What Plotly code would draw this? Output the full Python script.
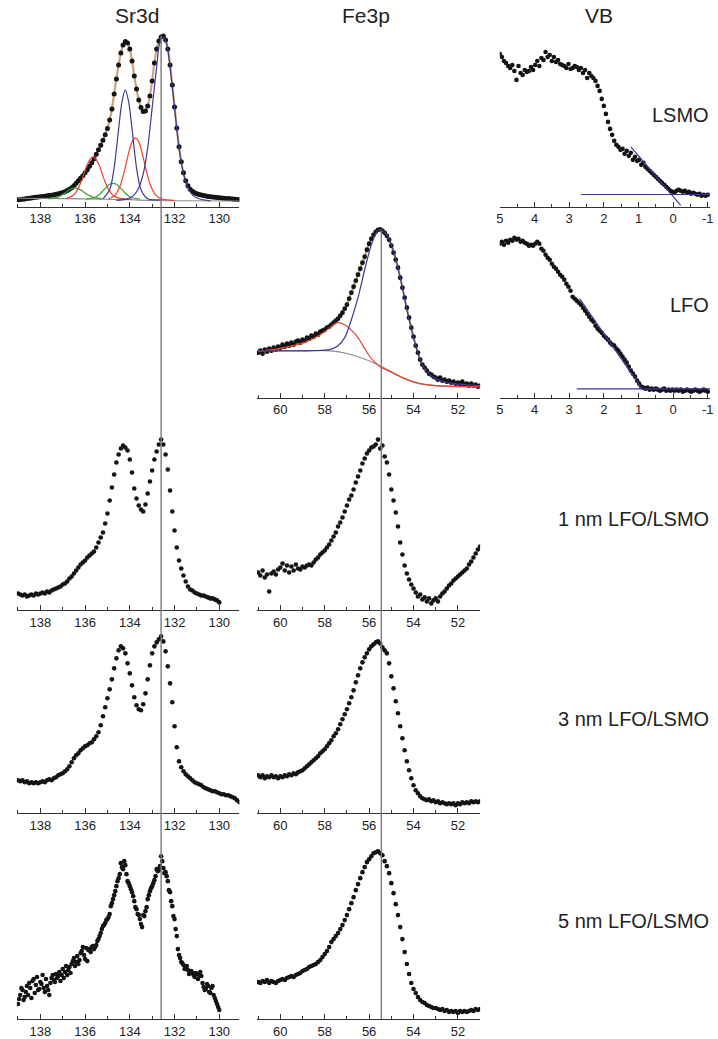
import plotly.graph_objects as go

W, H = 718, 1039
FONT = "Liberation Sans, Arial, sans-serif"
TXT = "#222222"
DOT = "#141414"
BLUE = "#3f3796"
RED = "#e8432d"
GREEN = "#3f9a3c"
GREY = "#8a8a8a"
ENV = "#c9a47e"


def grid(start, step, n):
    """Binding-energy grid of a scan (eV), measured from high to low."""
    return [round(start - step * i, 3) for i in range(n)]


# ---------------- Sr3d spectra (eV grid 139.0 -> , step 0.1) ----------------
SR3D_LSMO = [7, 7.3, 7.5, 7.8, 8.2, 8.5, 8.8, 9.2, 9.5, 9.8,
             10, 10.3, 10.6, 11, 11.3, 11.6, 12, 12.5, 13, 13.5,
             14.2, 15, 16.2, 17.5, 19, 21, 23.5, 26, 28.5, 31,
             34, 37, 40.5, 44, 48, 52.5, 57, 61.5, 66.5, 72,
             78.5, 87, 98, 113, 128, 142, 154, 162, 165.5, 164,
             158, 146, 131, 118, 107, 99.5, 95.5, 96, 101, 111,
             126, 144, 158, 166, 170, 171, 167, 158, 142, 122,
             100, 79, 60, 45, 34, 26, 21, 17.5, 15.5, 14,
             13, 12.3, 11.8, 11.3, 10.8, 10.4, 10.1, 9.8, 9.5, 9.3,
             9, 8.8, 8.6, 8.4, 8.2, 8, 7.8, 7.6, 7.4, 7.2]

SR3D_1NM = [17, 16, 15, 16, 14, 15, 16, 15, 17, 16,
            17, 18, 17, 19, 18, 20, 21, 22, 23, 24,
            26, 27, 29, 32, 34, 37, 40, 43, 46, 48,
            50, 53, 55, 57, 59, 63, 68, 73, 78, 87,
            97, 110, 123, 136, 148, 156, 162, 165, 163, 160,
            151, 138, 122, 112, 105, 101, 99, 106, 117, 129,
            140, 151, 159, 166, 171, 166, 156, 141, 120, 99,
            80, 63, 50, 42, 35, 29, 24, 21, 20, 18,
            17, 16, 15, 15, 14, 13, 12, 12, 11, 10, 8]

SR3D_3NM = [33, 32, 33, 31, 32, 30, 31, 30, 31, 30,
            31, 32, 31, 33, 34, 33, 35, 36, 38, 39,
            40, 42, 44, 47, 51, 55, 58, 60, 63, 65,
            67, 68, 70, 71, 74, 77, 81, 88, 97, 106,
            115, 124, 134, 145, 155, 163, 167, 165, 160, 150,
            140, 128, 116, 108, 104, 103, 109, 120, 134, 148,
            160, 167, 171, 174, 177, 172, 162, 147, 130, 111,
            87, 66, 52, 46, 42, 39, 37, 35, 33, 31,
            30, 29, 28, 26, 25, 24, 23, 22, 22, 21,
            20, 19, 19, 18, 18, 17, 16, 15, 13, 11]

# 5 nm: two interleaved sweeps (139.00 -> 130.00 and 138.95 -> 130.05)
SR3D_5NM = [15, 24, 29, 22, 33, 36, 21, 40, 34, 29,
            37, 44, 27, 33, 24, 41, 39, 45, 43, 38,
            50, 47, 44, 52, 55, 61, 57, 55, 66, 72,
            60, 58, 70, 72, 70, 74, 80, 86, 93, 96,
            100, 105, 116, 124, 133, 141, 156, 150, 154, 138,
            133, 127, 118, 110, 104, 95, 104, 108, 120, 128,
            133, 139, 150, 149, 163, 151, 147, 138, 127, 113,
            100, 83, 64, 57, 54, 51, 49, 47, 46, 42,
            45, 44, 43, 32, 30, 33, 26, 33, 21, 15, 9]
SR3D_5NM_B = [20, 31, 19, 27, 24, 31, 38, 26, 42, 30,
              35, 31, 40, 29, 36, 44, 37, 41, 47, 44,
              41, 53, 49, 46, 58, 53, 63, 59, 68, 64,
              71, 69, 67, 73, 72, 78, 83, 90, 94, 99,
              102, 113, 120, 128, 138, 145, 152, 158, 145, 136,
              130, 123, 112, 105, 100, 92, 103, 112, 124, 131,
              136, 143, 148, 153, 158, 146, 143, 129, 118, 103,
              90, 70, 61, 56, 50, 53, 45, 48, 44, 46,
              40, 47, 36, 29, 35, 27, 31, 24, 18, 12]

# ---------------- Fe3p spectra (eV grid 61.0 -> 51.0, step 0.1) ----------------
FE3P_LFO = [45, 47, 44, 48, 46, 49, 47, 50, 48, 51,
            50, 53, 51, 54, 52, 55, 53, 56, 57, 55,
            58, 57, 60, 59, 62, 61, 64, 63, 66, 67,
            68, 70, 71, 73, 75, 77, 79, 82, 85, 89,
            93, 99, 105, 111, 117, 123, 129, 135, 141, 148,
            154, 159, 163, 166, 168, 168.5, 167, 165, 162, 158,
            152, 145, 138, 130, 120, 110, 100, 90, 80, 70,
            61, 52, 45, 38, 33, 30, 27, 24, 23, 21,
            20, 18, 20, 17, 18, 16, 17, 15, 16, 14,
            15, 13, 16, 13, 14, 12, 14, 12, 13, 11, 12]

FE3P_1NM = [38, 35, 40, 33, 36, 19, 37, 39, 36, 41,
            43, 47, 40, 45, 38, 44, 40, 46, 42, 41,
            44, 43, 45, 46, 45, 48, 51, 53, 56, 58,
            60, 63, 66, 70, 74, 78, 84, 88, 93, 99,
            105, 111, 115, 121, 128, 134, 140, 147, 152, 157,
            160, 163, 164, 166, 171, 162, 165, 154, 148, 136,
            121, 110, 98, 84, 68, 56, 45, 37, 31, 26,
            22, 18, 14, 16, 11, 13, 9, 12, 7, 10,
            12, 9, 14, 17, 19, 22, 25, 27, 30, 32,
            34, 36, 38, 40, 42, 46, 49, 53, 57, 61, 64]

FE3P_3NM = [38, 36, 38, 35, 37, 36, 38, 36, 37, 35,
            37, 36, 38, 37, 39, 38, 40, 39, 41, 42,
            43, 45, 47, 49, 51, 53, 55, 57, 60, 62,
            64, 67, 70, 73, 77, 80, 84, 89, 94, 99,
            104, 110, 116, 123, 131, 138, 145, 151, 156, 160,
            164, 167, 169, 171, 172, 170, 166, 163, 160, 150,
            137, 125, 112, 100, 87, 75, 63, 52, 43, 35,
            28, 23, 20, 17, 15, 14, 13, 14, 12, 13,
            11, 12, 10, 11, 10, 9, 10, 9, 10, 8,
            10, 9, 11, 10, 11, 10, 12, 11, 12, 11, 12]

FE3P_5NM = [37, 36, 38, 37, 39, 36, 38, 37, 36, 38,
            39, 40, 39, 41, 42, 43, 42, 44, 45, 46,
            48, 49, 50, 52, 53, 54, 55, 57, 59, 62,
            65, 68, 72, 77, 80, 83, 86, 90, 94, 99,
            104, 110, 116, 122, 129, 135, 141, 147, 152, 157,
            160, 163, 166, 167, 168, 166, 164, 158, 153, 146,
            136, 126, 115, 104, 92, 80, 67, 55, 45, 36,
            30, 26, 22, 19, 17, 16, 14, 13, 12, 11,
            11, 10, 9, 10, 8, 9, 7, 8, 7, 8,
            6, 8, 7, 8, 7, 8, 9, 8, 10, 9, 10]

# ---------------- valence band (eV grid 5.0 -> -1.0, step 0.06) ----------------
VB_LSMO = [153, 150, 146, 144, 141, 139, 142, 136, 127, 141,
           134, 132, 137, 135, 136, 140, 137, 142, 146, 141,
           149, 147, 155, 150, 152, 146, 150, 145, 147, 143,
           142, 141, 139, 143, 138, 139, 141, 140, 137, 139,
           134, 137, 129, 134, 131, 129, 126, 121, 116, 108,
           101, 93, 85, 78, 72, 66, 62, 60, 57, 58,
           53, 56, 51, 54, 47, 50, 46, 47, 42, 44,
           40, 38, 36, 34, 32, 30, 28, 26, 24, 22,
           20, 18, 16, 15, 14, 16, 17, 16, 15, 16,
           14, 15, 13, 14, 13, 12, 13, 11, 12, 11, 12]

VB_LFO = [154, 156, 153, 157, 155, 158, 157, 160, 158, 159,
          156, 157, 155, 154, 152, 153, 152, 154, 156, 154,
          149, 147, 143, 140, 138, 134, 131, 129, 126, 123,
          121, 118, 114, 111, 107, 101, 99, 97, 95, 93,
          90, 87, 84, 81, 78, 76, 72, 69, 67, 65,
          62, 60, 58, 55, 53, 52, 49, 47, 44, 41,
          38, 35, 31, 27, 24, 21, 17, 14, 11, 10,
          9, 10, 8, 9, 8, 9, 8, 7, 8, 9,
          7, 8, 7, 8, 7, 8, 7, 8, 6, 7,
          8, 7, 6, 7, 8, 7, 6, 7, 8, 7, 6]

# ---------------- fitted components (E, I) ----------------
SR_BG = [(139.0, 8.5), (137.0, 8.2), (135.0, 7.5), (134.0, 7), (133.0, 6.3),
         (132.0, 6), (129.1, 5.8)]
SR_BLUE_A = [(134.6, 6.5), (134.1, 8), (133.8, 12), (133.6, 19), (133.4, 33),
             (133.2, 59), (133.0, 99), (132.8, 140), (132.65, 165), (132.5, 169),
             (132.35, 163), (132.2, 140), (132.0, 99), (131.8, 59), (131.6, 33),
             (131.4, 19), (131.2, 12), (130.9, 8), (130.4, 6)]
SR_BLUE_B = [(135.2, 8), (134.9, 17), (134.7, 39), (134.5, 78), (134.35, 105),
             (134.2, 117), (134.05, 105), (133.9, 78), (133.7, 39), (133.5, 17),
             (133.2, 8), (132.6, 7)]
SR_RED_A = [(134.95, 7.7), (134.65, 12), (134.45, 20), (134.25, 35), (134.05, 54),
            (133.9, 65), (133.75, 69), (133.6, 65), (133.45, 54), (133.25, 35),
            (133.05, 20), (132.85, 12), (132.55, 7.7), (132.0, 6.5)]
SR_RED_B = [(136.84, 8.5), (136.54, 11.4), (136.34, 17), (136.14, 27), (135.94, 40),
            (135.79, 47), (135.64, 50), (135.49, 47), (135.34, 40), (135.14, 27),
            (134.94, 17), (134.74, 11.4), (134.44, 8.5), (133.9, 7.5)]
SR_GREEN_A = [(135.95, 7.7), (135.65, 8.8), (135.45, 10.9), (135.25, 14.8),
              (135.05, 19.6), (134.9, 22.5), (134.75, 23.5), (134.6, 22.5),
              (134.45, 19.6), (134.25, 14.8), (134.05, 10.9), (133.85, 8.8),
              (133.55, 7.7)]
SR_GREEN_B = [(137.65, 8.1), (137.35, 8.9), (137.15, 10.4), (136.95, 13),
              (136.75, 16.3), (136.6, 18.2), (136.45, 19), (136.3, 18.2),
              (136.15, 16.3), (135.95, 13), (135.75, 10.4), (135.55, 8.9),
              (135.25, 8.1)]

FE_BG = [(61.0, 47), (59.0, 47), (58.0, 47), (57.3, 45.5), (56.5, 41),
         (55.5, 32), (54.6, 21), (53.8, 14.5), (53.0, 12), (52.0, 11), (51.0, 11)]
FE_BLUE = [(61.0, 47), (58.5, 47), (57.8, 48), (57.4, 52), (57.1, 60), (56.8, 78),
           (56.5, 100), (56.2, 128), (55.9, 153), (55.65, 166), (55.5, 168),
           (55.2, 163), (54.9, 147), (54.6, 120), (54.3, 88), (54.0, 60),
           (53.7, 38), (53.4, 26), (53.0, 19), (52.5, 15), (52.0, 13.5), (51.0, 12)]
FE_RED = [(61.0, 46.5), (60.2, 48.5), (59.5, 51.5), (58.8, 56), (58.0, 66),
          (57.7, 71.5), (57.43, 75), (57.1, 73), (56.8, 67.5), (56.5, 60),
          (56.2, 49), (55.9, 39), (55.5, 31), (55.0, 25.5), (54.6, 21),
          (53.8, 14.5), (53.0, 12), (51.0, 11)]

# valence-band edge extrapolations
VB_LSMO_EDGE = [(1.22, 60), (-0.22, 1.5)]
VB_LSMO_BASE = [(2.66, 12.3), (-1.07, 12.3)]
VB_LFO_EDGE = [(2.70, 99), (0.88, 8)]
VB_LFO_BASE = [(2.78, 8.7), (-1.07, 8.7)]

# reference energies marked across the stacks
SR3D_REF = 132.6
FE3P_REF = 55.45

# tick labels
SR_TICKS = [138, 136, 134, 132, 130]
FE_TICKS = [60, 58, 56, 54, 52]
VB_TICKS = [5, 4, 3, 2, 1, 0, -1]
VB_TICKTEXT = ["5", "4", "3", "2", "1", "0", "-1"]

COLUMN_TITLES = ["Sr3d", "Fe3p", "VB"]
ROW_LABELS = ["LSMO", "LFO", "1 nm LFO/LSMO", "3 nm LFO/LSMO", "5 nm LFO/LSMO"]

# ---------------- layout geometry (pixels) ----------------
PANEL_H = 185
COLS = {
    "sr": dict(x0=13.0, x1=237.7, rng=[139.05, 129.1], ticks=SR_TICKS, text=None,
               minor=1),
    "fe": dict(x0=255.5, x1=480.8, rng=[61.05, 51.0], ticks=FE_TICKS, text=None,
               minor=1),
    "vb": dict(x0=500.7, x1=713.2, rng=[5.0, -1.07], ticks=VB_TICKS,
               text=VB_TICKTEXT, minor=0.5),
}
# (column, axis line y) for each panel, numbered in axis order
PANELS = [("sr", 207), ("vb", 207), ("fe", 398), ("vb", 398),
          ("sr", 611), ("fe", 611), ("sr", 814), ("fe", 814),
          ("sr", 1020), ("fe", 1020)]


def px(x):
    return x / W


def py(y):
    return 1 - y / H


fig = go.Figure()
layout = dict(width=W, height=H, margin=dict(l=0, r=0, t=0, b=0),
              paper_bgcolor="white", plot_bgcolor="rgba(0,0,0,0)",
              showlegend=False, font=dict(family=FONT, color=TXT))

for k, (col, base) in enumerate(PANELS, start=1):
    c = COLS[col]
    sfx = "" if k == 1 else str(k)
    layout["xaxis" + sfx] = dict(
        domain=[px(c["x0"]), px(c["x1"])], range=c["rng"], anchor="y" + sfx,
        showline=True, linecolor="#333333", linewidth=1, showgrid=False,
        zeroline=False, ticks="inside", ticklen=5, tickwidth=1, tickcolor="#333333",
        tickvals=c["ticks"], ticktext=c["text"] if c["text"] else [str(t) for t in c["ticks"]],
        tickfont=dict(family=FONT, size=13, color=TXT),
        minor=dict(dtick=c["minor"], tick0=0, ticks="inside", ticklen=3,
                   tickcolor="#333333", showgrid=False),
        fixedrange=True,
    )
    layout["yaxis" + sfx] = dict(
        domain=[py(base), py(base - PANEL_H)], range=[0, PANEL_H], anchor="x" + sfx,
        visible=False, fixedrange=True,
    )


def ax(k):
    return ("x", "y") if k == 1 else ("x" + str(k), "y" + str(k))


def dots(k, energies, values, size=4.6):
    xa, ya = ax(k)
    fig.add_trace(go.Scatter(x=energies, y=values, mode="markers", xaxis=xa, yaxis=ya,
                             marker=dict(size=size, color=DOT, line=dict(width=0)),
                             hoverinfo="skip"))


def curve(k, pts, color, width=1.2, shape="spline"):
    xa, ya = ax(k)
    fig.add_trace(go.Scatter(x=[p[0] for p in pts], y=[p[1] for p in pts], mode="lines",
                             xaxis=xa, yaxis=ya, line=dict(color=color, width=width,
                                                           shape=shape, smoothing=0.8),
                             hoverinfo="skip"))


E_SR_LSMO = grid(139.0, 0.1, len(SR3D_LSMO))
E_FE = grid(61.0, 0.1, len(FE3P_LFO))
E_VB = grid(5.0, 0.06, len(VB_LSMO))

# Panel 1: Sr3d of bare LSMO with peak fit (envelope beneath the data)
curve(1, list(zip(E_SR_LSMO, SR3D_LSMO)), ENV, width=2.2)
dots(1, E_SR_LSMO, SR3D_LSMO, size=5)
curve(1, SR_BG, GREY, width=1.1)
for comp, colr in [(SR_GREEN_B, GREEN), (SR_GREEN_A, GREEN), (SR_RED_B, RED),
                   (SR_RED_A, RED), (SR_BLUE_B, BLUE), (SR_BLUE_A, BLUE)]:
    curve(1, comp, colr)

# Panel 2: VB of LSMO
dots(2, E_VB, VB_LSMO, size=4.6)
curve(2, VB_LSMO_EDGE, BLUE, shape="linear")
curve(2, VB_LSMO_BASE, BLUE, shape="linear")

# Panel 3: Fe3p of LFO with peak fit
curve(3, list(zip(E_FE, FE3P_LFO)), ENV, width=2.2)
dots(3, E_FE, FE3P_LFO, size=4.8)
curve(3, FE_BG, GREY, width=1.1)
curve(3, FE_RED, RED)
curve(3, FE_BLUE, BLUE)

# Panel 4: VB of LFO
dots(4, E_VB, VB_LFO, size=4.6)
curve(4, VB_LFO_EDGE, BLUE, shape="linear")
curve(4, VB_LFO_BASE, BLUE, shape="linear")

# Heterostructures
dots(5, grid(139.0, 0.1, len(SR3D_1NM)), SR3D_1NM)
dots(6, E_FE, FE3P_1NM)
dots(7, grid(139.0, 0.1, len(SR3D_3NM)), SR3D_3NM)
dots(8, E_FE, FE3P_3NM)
dots(9, grid(139.0, 0.1, len(SR3D_5NM)), SR3D_5NM)
dots(9, grid(138.95, 0.1, len(SR3D_5NM_B)), SR3D_5NM_B)
dots(10, E_FE, FE3P_5NM)

# reference lines through the stacks
shapes = [
    dict(type="line", xref="x", yref="paper", x0=SR3D_REF, x1=SR3D_REF,
         y0=py(1020), y1=py(36), line=dict(color="#7a7a7a", width=1.4)),
    dict(type="line", xref="x3", yref="paper", x0=FE3P_REF, x1=FE3P_REF,
         y0=py(1020), y1=py(230), line=dict(color="#7a7a7a", width=1.4)),
]
layout["shapes"] = shapes

annotations = []
for title, xc in zip(COLUMN_TITLES, [134, 366, 601]):
    annotations.append(dict(text=title, xref="paper", yref="paper", x=px(xc), y=py(16),
                            xanchor="center", yanchor="middle", showarrow=False,
                            font=dict(family=FONT, size=21, color=TXT)))
for label, yc in zip(ROW_LABELS, [115, 305, 520, 720, 922]):
    annotations.append(dict(text=label, xref="paper", yref="paper", x=px(714), y=py(yc),
                            xanchor="right", yanchor="middle", showarrow=False,
                            font=dict(family=FONT, size=20, color=TXT)))
layout["annotations"] = annotations

fig.update_layout(**layout)
fig.write_html("out.html")
